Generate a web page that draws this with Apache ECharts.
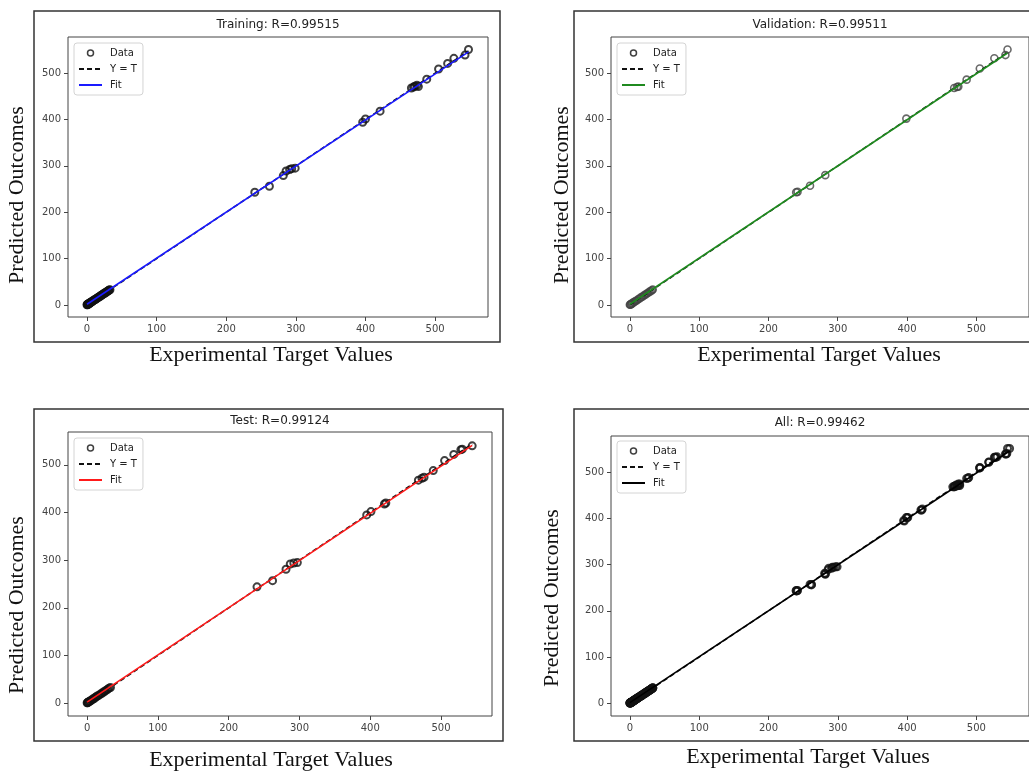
<!DOCTYPE html>
<html>
<head>
<meta charset="utf-8">
<title>Regression plots</title>
<script src="https://cdn.jsdelivr.net/npm/echarts@6/dist/echarts.min.js"></script>
<style>
  html, body { margin: 0; padding: 0; background: #ffffff; }
  #chart { width: 1029px; height: 771px; }
</style>
</head>
<body>
<div id="chart"></div>
<script>
// Tick labels shared by every axis
const tickValues = [0, 100, 200, 300, 400, 500];

// Panel titles
const panelTitles = ['Training: R=0.99515', 'Validation: R=0.99511', 'Test: R=0.99124', 'All: R=0.99462'];
const xAxisTitle = 'Experimental Target Values';
const yAxisTitle = 'Predicted Outcomes';
const legendNames = ['Data', 'Y = T', 'Fit'];

// Training subset: low-value cluster and upper points (target, output)
const trainLowTargets = [0, 0.4, 0.8, 1.2, 1.8, 2.5, 3, 3.6, 4.2, 5, 5.8, 6.5, 7.3, 8, 9, 10, 11, 12, 13, 14, 15, 16, 17, 18, 19, 20, 21, 22, 23, 24, 25, 26, 27, 28, 29, 30, 31, 32, 33];
const trainLowOutputs = [0.5, 1, 0.3, 1.8, 2.2, 2, 3.5, 3.1, 4.8, 5.4, 5.5, 7, 7.1, 8.6, 9.2, 10.5, 10.8, 12.4, 12.7, 14.3, 15.2, 15.8, 17.4, 17.6, 19.3, 20.2, 20.8, 22.3, 22.9, 24.5, 25.1, 25.8, 27.3, 27.6, 29.2, 30.1, 30.9, 32.4, 32.8];
const trainHighTargets = [241, 262, 282, 286, 291, 294, 299, 396, 400, 421, 466, 469, 471, 474, 476, 488, 505, 518, 527, 543, 548];
const trainHighOutputs = [243, 256, 279, 289, 292, 294, 295, 394, 401, 418, 468, 470, 472, 474, 471, 487, 509, 521, 532, 539, 551];
const trainFit = [[0, 1.5], [548, 546]];

// Validation subset
const valLowTargets = [0, 0.6, 1.5, 2.4, 3.5, 5, 6.5, 8, 10, 12, 14, 16, 18, 20, 22, 24, 26, 28, 30, 32, 33];
const valLowOutputs = [0.4, 1.1, 1.2, 2.9, 3.2, 5.6, 6.2, 8.5, 9.7, 12.4, 13.8, 16.3, 17.7, 20.4, 21.8, 24.3, 25.7, 28.2, 29.9, 31.8, 33.4];
const valHighTargets = [240, 242, 260, 282, 399, 468, 472, 474, 486, 505, 526, 542, 545];
const valHighOutputs = [243, 244, 257, 280, 402, 468, 470, 471, 486, 510, 532, 539, 551];
const valFit = [[0, 1.5], [545, 543.5]];

// Test subset
const testLowTargets = [0, 0.5, 1.2, 2, 3, 4.2, 5.5, 7, 8.5, 10, 11.5, 13, 15, 17, 19, 21, 23, 25, 27, 29, 31, 33];
const testLowOutputs = [0.6, 0.9, 1.6, 2.5, 3.4, 4.1, 6, 6.8, 9.1, 9.8, 12.1, 13.2, 15.5, 16.8, 19.4, 20.7, 23.3, 24.8, 27.2, 28.9, 31.4, 32.8];
const testHighTargets = [240, 262, 281, 287, 292, 297, 395, 401, 420, 422, 468, 473, 476, 489, 505, 518, 528, 530, 544];
const testHighOutputs = [244, 257, 281, 292, 294, 295, 395, 402, 418, 420, 468, 472, 474, 488, 509, 522, 532, 533, 540];
const testFit = [[0, 2], [544, 541]];

// Whole data set fit
const allFit = [[0, 1.5], [548, 545.5]];

function pairs(targets, outputs) {
  return targets.map((t, i) => [t, outputs[i]]);
}

const trainPts = pairs(trainLowTargets, trainLowOutputs).concat(pairs(trainHighTargets, trainHighOutputs));
const valPts = pairs(valLowTargets, valLowOutputs).concat(pairs(valHighTargets, valHighOutputs));
const testPts = pairs(testLowTargets, testLowOutputs).concat(pairs(testHighTargets, testHighOutputs));
const allPts = trainPts.concat(valPts, testPts);

// Layout of the four panels (pixels)
const panels = [
  { key: 'train', pts: trainPts, fit: trainFit, fitColor: '#1a1aff', markColor: '#111111', markWidth: 2,
    grid: { left: 68, top: 37, width: 420, height: 280 }, xr: [-27.3, 576], yr: [-26, 578],
    frame: [34, 11, 466, 331], title: [278, 25], xName: [271, 355], yName: [17, 195], legend: [74, 43] },
  { key: 'val', pts: valPts, fit: valFit, fitColor: '#1f8a1f', markColor: '#444444', markWidth: 1.6,
    grid: { left: 611, top: 37, width: 421, height: 280 }, xr: [-27.2, 576], yr: [-26, 578],
    frame: [574, 11, 471, 331], title: [820, 25], xName: [819, 355], yName: [562, 195], legend: [617, 43] },
  { key: 'test', pts: testPts, fit: testFit, fitColor: '#ff1a1a', markColor: '#111111', markWidth: 2,
    grid: { left: 68, top: 432, width: 424, height: 284 }, xr: [-27, 572], yr: [-27, 569],
    frame: [34, 409, 469, 332], title: [280, 421], xName: [271, 760], yName: [17, 605], legend: [74, 438] },
  { key: 'all', pts: allPts, fit: allFit, fitColor: '#000000', markColor: '#111111', markWidth: 2,
    grid: { left: 611, top: 436, width: 421, height: 280 }, xr: [-27.3, 576], yr: [-27.5, 578],
    frame: [574, 409, 471, 332], title: [820, 423], xName: [808, 757], yName: [552, 598], legend: [617, 441] }
];

const grids = [], xAxes = [], yAxes = [], series = [], legends = [], graphics = [];

panels.forEach((p, i) => {
  grids.push(Object.assign({ show: true, borderColor: '#444', borderWidth: 1, backgroundColor: 'transparent' }, p.grid));

  const axisCommon = {
    type: 'value', gridIndex: i,
    axisLine: { show: false, onZero: false },
    splitLine: { show: false },
    axisTick: { show: true, inside: false, customValues: tickValues, length: 4, lineStyle: { color: '#444', width: 1 } },
    axisLabel: { customValues: tickValues, fontSize: 10, fontFamily: 'DejaVu Sans', color: '#444', margin: 7 }
  };
  xAxes.push(Object.assign({}, axisCommon, { min: p.xr[0], max: p.xr[1] }));
  yAxes.push(Object.assign({}, axisCommon, { min: p.yr[0], max: p.yr[1] }));

  const lo = Math.min(...p.pts.map(d => d[0]));
  const hi = Math.max(...p.pts.map(d => d[0]));
  const names = legendNames.map(n => p.key + ':' + n);

  series.push({
    type: 'scatter', name: names[0], xAxisIndex: i, yAxisIndex: i, data: p.pts,
    symbol: 'circle', symbolSize: 7, silent: true, z: 2,
    itemStyle: { color: 'transparent', borderColor: p.markColor, borderWidth: p.markWidth }
  });
  series.push({
    type: 'line', name: names[1], xAxisIndex: i, yAxisIndex: i, data: [[lo, lo], [hi, hi]],
    symbol: 'none', silent: true, z: 3,
    lineStyle: { color: '#111111', width: 1.5, type: [5, 3] }
  });
  series.push({
    type: 'line', name: names[2], xAxisIndex: i, yAxisIndex: i, data: p.fit,
    symbol: 'none', silent: true, z: 4,
    lineStyle: { color: p.fitColor, width: 1.6 }
  });

  legends.push({
    data: [
      { name: names[0], itemStyle: { color: 'transparent', borderColor: '#111', borderWidth: 1.5 } },
      { name: names[1], itemStyle: { opacity: 0 }, lineStyle: { width: 2 } },
      { name: names[2], itemStyle: { opacity: 0 }, lineStyle: { width: 2 } }
    ],
    orient: 'vertical', left: p.legend[0], top: p.legend[1],
    itemWidth: 23, itemHeight: 6, itemGap: 6, padding: [5, 6, 5, 4],
    backgroundColor: 'rgba(255,255,255,0.85)', borderColor: '#d4d4d4', borderWidth: 1, borderRadius: 3,
    selectedMode: false,
    textStyle: { fontSize: 10, fontFamily: 'DejaVu Sans', color: '#222', padding: [0, 0, 0, 3] },
    formatter: n => n.slice(n.indexOf(':') + 1)
  });

  graphics.push({
    type: 'rect', shape: { x: p.frame[0], y: p.frame[1], width: p.frame[2], height: p.frame[3] },
    style: { fill: 'none', stroke: '#333', lineWidth: 1.5 }, silent: true
  });
  graphics.push({
    type: 'text', x: p.title[0], y: p.title[1], silent: true,
    style: { text: panelTitles[i], align: 'center', verticalAlign: 'middle', fontSize: 12, fontFamily: 'DejaVu Sans', fill: '#222' }
  });
  graphics.push({
    type: 'text', x: p.xName[0], y: p.xName[1], silent: true,
    style: { text: xAxisTitle, align: 'center', verticalAlign: 'middle', fontSize: 22, fontFamily: 'Liberation Serif', fill: '#111' }
  });
  graphics.push({
    type: 'text', x: p.yName[0], y: p.yName[1], rotation: Math.PI / 2, silent: true,
    style: { text: yAxisTitle, align: 'center', verticalAlign: 'middle', fontSize: 22, fontFamily: 'Liberation Serif', fill: '#111' }
  });
});

const chart = echarts.init(document.getElementById('chart'), null, { renderer: 'canvas' });
chart.setOption({
  animation: false,
  backgroundColor: '#ffffff',
  grid: grids,
  xAxis: xAxes,
  yAxis: yAxes,
  legend: legends,
  series: series,
  graphic: graphics
});
</script>
</body>
</html>
